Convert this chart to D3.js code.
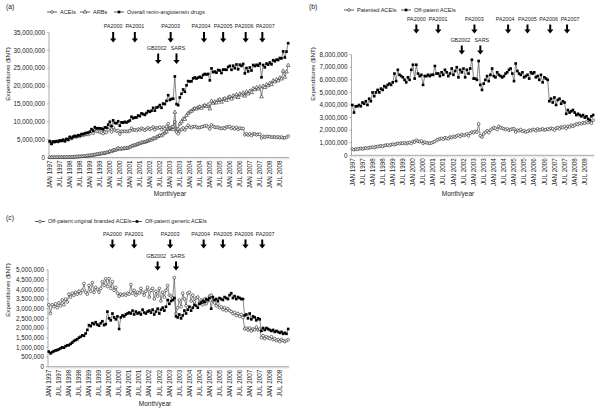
<!DOCTYPE html>
<html>
<head>
<meta charset="utf-8">
<script src="https://cdn.jsdelivr.net/npm/d3@7"></script>
<style>
  body { margin: 0; background: #fff; }
  svg { font-family: 'Liberation Sans', Arial, sans-serif; }
</style>
</head>
<body>
<svg id="chart" width="600" height="412"></svg>
<script>
// monthly expenditures in millions NT$, JAN 1997 .. DEC 2008 (12 values per row)
const aceis = [
  4.5, 3.85, 4.4, 4.38, 4.52, 4.45, 4.7, 4.65, 4.88, 4.55, 5.1, 4.92,
  5.65, 5.32, 5.68, 5.9, 5.72, 6.05, 5.9, 6.28, 6.2, 6.42, 6.48, 6.45,
  6.68, 7.35, 6.8, 7.75, 7.32, 7.28, 7.15, 7.0, 6.72, 7.18, 7.02, 7.75,
  8.3, 7.15, 8.4, 7.62, 7.38, 7.55, 6.55, 7.35, 7.3, 7.38, 7.25, 7.38,
  7.45, 8.2, 7.7, 7.75, 7.6, 7.95, 7.68, 8.2, 7.95, 7.62, 7.95, 8.3,
  7.9, 8.15, 8.55, 7.8, 8.3, 8.25, 8.48, 7.82, 8.5, 8.05, 8.65, 9.45,
  7.9, 8.0, 7.85, 10.0, 7.15, 6.65, 7.4, 7.85, 8.25, 7.7, 8.4, 9.0,
  8.5, 8.35, 8.65, 8.7, 8.5, 8.35, 8.4, 8.55, 8.7, 8.8, 8.95, 8.6,
  8.0, 9.15, 8.7, 8.45, 8.45, 8.5, 8.15, 8.15, 8.3, 8.1, 8.55, 8.55,
  8.65, 8.15, 8.4, 8.0, 8.45, 7.9, 8.2, 8.15, 8.1, 6.35, 6.65, 6.3,
  6.6, 6.15, 6.6, 6.6, 6.35, 6.5, 6.5, 5.45, 5.9, 5.65, 5.9, 5.9,
  5.8, 5.7, 5.75, 5.75, 5.6, 5.8, 5.55, 5.75, 5.5, 5.5, 5.65, 6.0
];
const arbs = [
  0.02, 0.02, 0.03, 0.03, 0.04, 0.04, 0.05, 0.05, 0.06, 0.06, 0.07, 0.08,
  0.1, 0.1, 0.13, 0.15, 0.18, 0.2, 0.24, 0.28, 0.32, 0.36, 0.42, 0.48,
  0.55, 0.58, 0.68, 0.75, 0.85, 0.92, 1.0, 1.1, 1.15, 1.25, 1.35, 1.45,
  1.7, 1.65, 2.0, 2.05, 2.2, 2.6, 2.35, 2.5, 2.45, 2.6, 2.55, 2.7,
  2.9, 3.2, 3.3, 3.45, 3.6, 3.8, 3.9, 4.15, 4.2, 4.3, 4.5, 4.7,
  4.9, 4.95, 5.35, 5.3, 5.7, 5.9, 6.2, 6.1, 6.6, 6.9, 7.2, 8.0,
  8.2, 8.4, 8.6, 12.7, 7.8, 8.0, 9.4, 10.0, 10.8, 10.7, 11.8, 12.4,
  12.8, 13.0, 13.5, 13.7, 13.6, 14.0, 14.2, 13.8, 14.4, 14.6, 14.3, 14.8,
  13.6, 15.8, 15.2, 15.6, 15.3, 16.0, 16.2, 15.5, 16.3, 16.5, 16.0, 16.8,
  17.0, 16.4, 17.3, 17.0, 17.6, 16.8, 17.8, 17.5, 18.1, 17.2, 18.4, 17.8,
  18.6, 18.2, 19.3, 19.0, 19.6, 19.2, 19.8, 17.0, 20.0, 19.6, 20.4, 20.1,
  20.8, 20.4, 21.5, 21.2, 21.8, 21.5, 22.3, 22.0, 24.2, 22.5, 24.0, 25.8
];
const overall = [
  4.52, 3.87, 4.43, 4.41, 4.56, 4.49, 4.75, 4.7, 4.94, 4.61, 5.17, 5.0,
  5.75, 5.42, 5.81, 6.05, 5.9, 6.25, 6.14, 6.56, 6.52, 6.78, 6.9, 6.93,
  7.23, 7.93, 7.48, 8.5, 8.17, 8.2, 8.15, 8.1, 7.87, 8.43, 8.37, 9.2,
  10.0, 8.8, 10.4, 9.67, 9.58, 10.15, 8.9, 9.85, 9.75, 9.98, 9.8, 10.08,
  10.35, 11.4, 11.0, 11.2, 11.2, 11.75, 11.58, 12.35, 12.15, 11.92, 12.45, 13.0,
  12.8, 13.1, 13.9, 13.1, 14.0, 14.15, 14.68, 13.92, 15.1, 14.95, 15.85, 17.45,
  16.1, 16.4, 16.45, 22.7, 14.95, 14.65, 16.8, 17.85, 19.05, 18.4, 20.2, 21.4,
  21.3, 21.35, 22.15, 22.4, 22.1, 22.35, 22.6, 22.35, 23.1, 23.4, 23.25, 23.4,
  21.6, 24.95, 23.9, 24.05, 23.75, 24.5, 24.35, 23.65, 24.6, 24.6, 24.55, 25.35,
  25.65, 24.55, 25.7, 25.0, 26.05, 24.7, 26.0, 25.65, 26.2, 23.55, 25.05, 24.1,
  25.2, 24.35, 25.9, 25.6, 25.95, 25.7, 26.3, 22.45, 25.9, 25.25, 26.3, 26.0,
  26.6, 26.1, 27.25, 26.95, 27.4, 27.3, 27.85, 27.75, 29.7, 28.0, 29.65, 32.0
];
const patented = [
  0.5, 0.45, 0.5, 0.48, 0.52, 0.55, 0.5, 0.55, 0.58, 0.55, 0.6, 0.62,
  0.65, 0.62, 0.68, 0.7, 0.72, 0.75, 0.7, 0.78, 0.8, 0.82, 0.78, 0.85,
  0.88, 0.85, 0.9, 0.95, 0.92, 0.98, 0.95, 1.0, 0.92, 0.98, 1.02, 0.95,
  1.1, 1.05, 1.2, 1.12, 1.08, 1.15, 0.95, 1.05, 1.0, 0.98, 0.95, 0.98,
  1.05, 1.1, 1.2, 1.25, 1.3, 1.35, 1.28, 1.4, 1.35, 1.32, 1.45, 1.4,
  1.5, 1.45, 1.55, 1.6, 1.5, 1.65, 1.58, 1.62, 1.7, 1.55, 1.75, 1.85,
  1.8, 1.9, 1.85, 2.5, 1.55, 1.45, 1.7, 1.85, 1.95, 1.8, 2.0, 2.1,
  2.2, 2.15, 2.05, 2.3, 2.2, 2.15, 2.1, 2.05, 2.1, 2.0, 2.05, 2.1,
  2.1, 1.85, 2.0, 1.95, 2.05, 1.9, 1.95, 1.85, 1.9, 2.0, 1.95, 2.05,
  2.05, 1.95, 2.1, 2.0, 2.05, 2.1, 2.0, 2.05, 2.1, 2.05, 2.15, 2.1,
  2.0, 2.15, 2.2, 2.1, 2.25, 2.2, 2.3, 2.15, 2.3, 2.25, 2.4, 2.3,
  2.4, 2.5, 2.45, 2.55, 2.5, 2.6, 2.55, 2.65, 2.6, 2.7, 2.55, 2.8
];
const offPatent = [
  4.0, 3.4, 3.9, 3.9, 4.0, 3.9, 4.2, 4.1, 4.3, 4.0, 4.5, 4.3,
  5.0, 4.7, 5.0, 5.2, 5.0, 5.3, 5.2, 5.5, 5.4, 5.6, 5.7, 5.6,
  5.8, 6.5, 5.9, 6.8, 6.4, 6.3, 6.2, 6.0, 5.8, 6.2, 6.0, 6.8,
  7.2, 6.1, 7.2, 6.5, 6.3, 6.4, 5.6, 6.3, 6.3, 6.4, 6.3, 6.4,
  6.4, 7.1, 6.5, 6.5, 6.3, 6.6, 6.4, 6.8, 6.6, 6.3, 6.5, 6.9,
  6.4, 6.7, 7.0, 6.2, 6.8, 6.6, 6.9, 6.2, 6.8, 6.5, 6.9, 7.6,
  6.1, 6.1, 6.0, 7.5, 5.6, 5.2, 5.7, 6.0, 6.3, 5.9, 6.4, 6.9,
  6.3, 6.2, 6.6, 6.4, 6.3, 6.2, 6.3, 6.5, 6.6, 6.8, 6.9, 6.5,
  5.9, 7.3, 6.7, 6.5, 6.4, 6.6, 6.2, 6.3, 6.4, 6.1, 6.6, 6.5,
  6.6, 6.2, 6.3, 6.0, 6.4, 5.8, 6.2, 6.1, 6.0, 4.3, 4.5, 4.2,
  4.6, 4.0, 4.4, 4.5, 4.1, 4.3, 4.2, 3.3, 3.6, 3.4, 3.5, 3.6,
  3.4, 3.2, 3.3, 3.2, 3.1, 3.2, 3.0, 3.1, 2.9, 2.8, 3.1, 3.2
];
const branded = [
  3.2, 2.75, 3.2, 3.1, 3.25, 3.05, 3.3, 3.15, 3.45, 3.2, 3.5, 3.35,
  3.75, 3.6, 3.8, 3.7, 3.85, 3.75, 3.9, 3.8, 3.95, 4.3, 3.85, 3.75,
  4.2, 3.9, 4.35, 3.85, 4.1, 4.0, 3.85, 4.05, 4.4, 4.2, 4.55, 4.15,
  4.55, 4.05, 4.4, 3.95, 4.1, 3.8, 3.65, 3.75, 3.7, 3.75, 3.7, 3.8,
  3.75, 4.25, 3.8, 3.95, 3.7, 3.85, 3.8, 4.05, 3.85, 3.7, 3.9, 4.1,
  3.6, 3.95, 4.05, 3.5, 3.9, 3.65, 4.05, 3.4, 3.85, 3.6, 3.95, 4.2,
  3.7, 3.65, 3.55, 4.6, 2.75, 3.05, 3.45, 3.1, 3.8, 3.5, 3.15, 3.8,
  3.85, 3.4, 3.7, 3.35, 3.55, 3.6, 3.3, 3.45, 3.2, 3.5, 3.25, 3.4,
  3.65, 3.7, 3.4, 3.3, 3.15, 3.25, 3.05, 3.1, 2.95, 3.05, 2.9, 3.0,
  2.9, 2.85, 2.75, 2.8, 2.65, 2.75, 2.6, 2.7, 2.55, 1.95, 2.0, 1.9,
  2.0, 1.85, 1.95, 1.9, 2.05, 1.9, 1.95, 1.5, 1.6, 1.45, 1.55, 1.5,
  1.45, 1.55, 1.4, 1.45, 1.35, 1.4, 1.3, 1.4, 1.35, 1.3, 1.35, 1.4
];
const generic = [
  0.78, 0.69, 0.75, 0.8, 0.84, 0.86, 0.9, 0.95, 1.0, 0.98, 1.06, 1.1,
  1.12, 1.18, 1.25, 1.33, 1.38, 1.42, 1.5, 1.55, 1.62, 1.6, 1.72, 1.9,
  2.15, 2.1, 2.25, 2.2, 2.3, 2.18, 2.12, 2.25, 2.35, 2.15, 2.2, 2.85,
  2.5, 2.4, 2.75, 2.55, 2.45, 2.6, 1.95, 2.55, 2.65, 2.6, 2.7, 2.75,
  2.8, 2.75, 2.9, 2.7, 2.85, 2.75, 2.8, 2.7, 2.95, 2.8, 2.75, 2.85,
  2.9, 2.8, 2.95, 2.7, 2.85, 3.0, 2.75, 2.95, 3.05, 2.9, 3.1, 3.45,
  3.25, 3.4, 3.45, 3.55, 2.6, 2.55, 2.7, 2.5, 2.65, 2.9, 2.75, 2.95,
  3.1, 2.9, 3.05, 3.2, 3.15, 3.05, 3.25, 3.3, 3.4, 3.35, 3.5, 3.45,
  3.55, 3.0, 3.6, 3.45, 3.5, 3.4, 3.55, 3.5, 3.45, 3.6, 3.55, 3.5,
  3.7, 3.8, 3.55, 3.65, 3.5, 3.6, 3.55, 3.5, 3.5, 2.65, 2.7, 2.5,
  2.75, 2.45, 2.6, 2.55, 2.4, 2.5, 2.45, 1.85, 2.0, 1.9, 2.0, 1.95,
  1.9, 1.85, 1.9, 1.8, 1.85, 1.8, 1.75, 1.8, 1.7, 1.75, 1.7, 1.95
];

const tickLabels = [
  'JAN 1997', 'JUL 1997', 'JAN 1998', 'JUL 1998', 'JAN 1999', 'JUL 1999',
  'JAN 2000', 'JUL 2000', 'JAN 2001', 'JUL 2001', 'JAN 2002', 'JUL 2002',
  'JAN 2003', 'JUL 2003', 'JAN 2004', 'JUL 2004', 'JAN 2005', 'JUL 2005',
  'JAN 2006', 'JUL 2006', 'JAN 2007', 'JUL 2007', 'JAN 2008', 'JUL 2008'
];

// policy events (month index from JAN 1997)
const paNames = ['PA2000', 'PA2001', 'PA2003', 'PA2004', 'PA2005', 'PA2006', 'PA2007'];
const paMonths = [38, 51, 72.5, 92.5, 104, 117.5, 127.5];
const lowNames = ['GB2002', 'SARS'];
const lowMonths = [65, 76];
// small text nudges so neighbouring labels do not collide
const paDx = [0, 0, 0, -3, 0, -1.5, 3];
const lowDx = [-1.5, 1.5];

const svg = d3.select('#chart');
const fmt = d3.format(',');
const nMonths = aceis.length;

function marker(type) {
  if (type === 'square') return d3.symbol().type(d3.symbolSquare).size(7)();
  if (type === 'triangle') return d3.symbol().type(d3.symbolTriangle).size(6)();
  return d3.symbol().type(d3.symbolCircle).size(6)();
}

function markerStyle(sel, type) {
  if (type === 'square') sel.attr('fill', '#000').attr('stroke', 'none');
  else sel.attr('fill', '#fff').attr('stroke', '#222').attr('stroke-width', 0.6);
}

function arrowPath(cx, top, h) {
  const hh = 4;
  return `M${cx - 1},${top}L${cx + 1},${top}L${cx + 1},${top + h - hh}L${cx + 3.2},${top + h - hh}` +
    `L${cx},${top + h}L${cx - 3.2},${top + h - hh}L${cx - 1},${top + h - hh}Z`;
}

function drawPanel(cfg) {
  const g = svg.append('g');
  const x = d3.scaleLinear().domain([-0.5, nMonths - 0.5]).range(cfg.xRange);
  const y = d3.scaleLinear().domain([0, cfg.yMax]).range(cfg.yRange);

  // y axis
  g.append('line')
    .attr('x1', cfg.xRange[0]).attr('x2', cfg.xRange[0])
    .attr('y1', cfg.yRange[0]).attr('y2', cfg.yRange[1])
    .attr('stroke', '#888').attr('stroke-width', 0.7);
  const yTicks = d3.range(0, cfg.yMax + 1e-9, cfg.yStep);
  g.selectAll('.yt')
    .data(yTicks)
    .join('line')
    .attr('x1', cfg.xRange[0] - 2).attr('x2', cfg.xRange[0])
    .attr('y1', (d) => y(d)).attr('y2', (d) => y(d))
    .attr('stroke', '#888').attr('stroke-width', 0.6);
  g.selectAll('.yl')
    .data(yTicks)
    .join('text')
    .attr('x', cfg.xRange[0] - 4)
    .attr('y', (d) => y(d))
    .attr('dy', '0.35em')
    .attr('text-anchor', 'end')
    .attr('font-size', 6.3)
    .attr('fill', '#222')
    .text((d) => fmt(Math.round(d * 1e6)));

  // x axis
  g.append('line')
    .attr('x1', cfg.xRange[0]).attr('x2', cfg.xRange[1])
    .attr('y1', cfg.yRange[0]).attr('y2', cfg.yRange[0])
    .attr('stroke', '#888').attr('stroke-width', 0.7);
  g.selectAll('.xt')
    .data(d3.range(nMonths + 1))
    .join('line')
    .attr('x1', (d) => x(d - 0.5)).attr('x2', (d) => x(d - 0.5))
    .attr('y1', cfg.yRange[0]).attr('y2', cfg.yRange[0] + 2)
    .attr('stroke', '#aaa').attr('stroke-width', 0.4);
  g.selectAll('.xl')
    .data(tickLabels)
    .join('text')
    .attr('transform', (d, i) => `translate(${x(i * 6)},${cfg.yRange[0] + 3}) rotate(-90)`)
    .attr('dy', '0.35em')
    .attr('text-anchor', 'end')
    .attr('font-size', 6.3)
    .attr('fill', '#222')
    .text((d) => d);

  g.append('text')
    .attr('x', cfg.xTitle[0]).attr('y', cfg.xTitle[1])
    .attr('text-anchor', 'middle')
    .attr('font-size', 6.5)
    .attr('fill', '#222')
    .text('Month/year');

  g.append('text')
    .attr('transform', `translate(${cfg.yTitle[0]},${cfg.yTitle[1]}) rotate(-90)`)
    .attr('dy', '0.35em')
    .attr('text-anchor', 'middle')
    .attr('font-size', 6.2)
    .attr('fill', '#222')
    .text('Expenditures ($NT)');

  g.append('text')
    .attr('x', cfg.tag[0]).attr('y', cfg.tag[1])
    .attr('font-size', 6.8)
    .attr('fill', '#222')
    .text(cfg.tagText);

  // series
  const line = d3.line().x((d, i) => x(i)).y((d) => y(d));
  cfg.series.forEach((s) => {
    g.append('path')
      .datum(s.values)
      .attr('d', line)
      .attr('fill', 'none')
      .attr('stroke', '#555')
      .attr('stroke-width', 0.7);
    g.append('g')
      .selectAll('path')
      .data(s.values)
      .join('path')
      .attr('d', marker(s.marker))
      .attr('transform', (d, i) => `translate(${x(i)},${y(d)})`)
      .call(markerStyle, s.marker);
  });

  // legend
  cfg.series.forEach((s) => {
    const lg = g.append('g').attr('transform', `translate(${s.legendX},${cfg.legendY})`);
    lg.append('line').attr('x1', 0).attr('x2', 10).attr('stroke', '#333').attr('stroke-width', 0.8);
    lg.append('path').attr('d', marker(s.marker)).attr('transform', 'translate(5,0)').call(markerStyle, s.marker);
    lg.append('text')
      .attr('x', 13)
      .attr('dy', '0.35em')
      .attr('font-size', 5.6)
      .attr('fill', '#222')
      .text(s.name);
  });

  // events
  const ann = g.append('g');
  paNames.forEach((name, i) => {
    const cx = x(paMonths[i]);
    ann.append('text')
      .attr('x', cx + paDx[i]).attr('y', cfg.paY)
      .attr('text-anchor', 'middle')
      .attr('font-size', 5.4)
      .attr('fill', '#222')
      .text(name);
    ann.append('path').attr('d', arrowPath(cx, cfg.paY + 4, cfg.arrowH)).attr('fill', '#000');
  });
  lowNames.forEach((name, i) => {
    const cx = x(lowMonths[i]);
    ann.append('text')
      .attr('x', cx + lowDx[i]).attr('y', cfg.lowY)
      .attr('text-anchor', 'middle')
      .attr('font-size', 5.4)
      .attr('fill', '#222')
      .text(name);
    ann.append('path').attr('d', arrowPath(cx, cfg.lowY + 3.5, cfg.arrowH)).attr('fill', '#000');
  });
}

drawPanel({
  tagText: '(a)', tag: [6, 9],
  xRange: [49, 289], yRange: [157.5, 32.5], yMax: 35, yStep: 5,
  xTitle: [170, 196], yTitle: [8, 74],
  legendY: 12, paY: 28, lowY: 50, arrowH: 10.5,
  series: [
    { name: 'ACEIs', values: aceis, marker: 'circle', legendX: 47 },
    { name: 'ARBs', values: arbs, marker: 'triangle', legendX: 80 },
    { name: 'Overall renin-angiotensin drugs', values: overall, marker: 'square', legendX: 114 }
  ]
});

drawPanel({
  tagText: '(b)', tag: [309, 9],
  xRange: [351.5, 594], yRange: [155.3, 54.7], yMax: 8, yStep: 1,
  xTitle: [458, 196], yTitle: [313, 74],
  legendY: 10, paY: 20.5, lowY: 42, arrowH: 9,
  series: [
    { name: 'Patented ACEIs', values: patented, marker: 'circle', legendX: 344 },
    { name: 'Off-patent ACEIs', values: offPatent, marker: 'square', legendX: 401 }
  ]
});

drawPanel({
  tagText: '(c)', tag: [6, 220],
  xRange: [48, 289], yRange: [366.7, 270], yMax: 5, yStep: 0.5,
  xTitle: [155, 406], yTitle: [8, 290],
  legendY: 221.5, paY: 235.5, lowY: 258, arrowH: 9,
  series: [
    { name: 'Off-patent original branded ACEIs', values: branded, marker: 'circle', legendX: 35 },
    { name: 'Off-patent generic ACEIs', values: generic, marker: 'square', legendX: 132 }
  ]
});
</script>
</body>
</html>
